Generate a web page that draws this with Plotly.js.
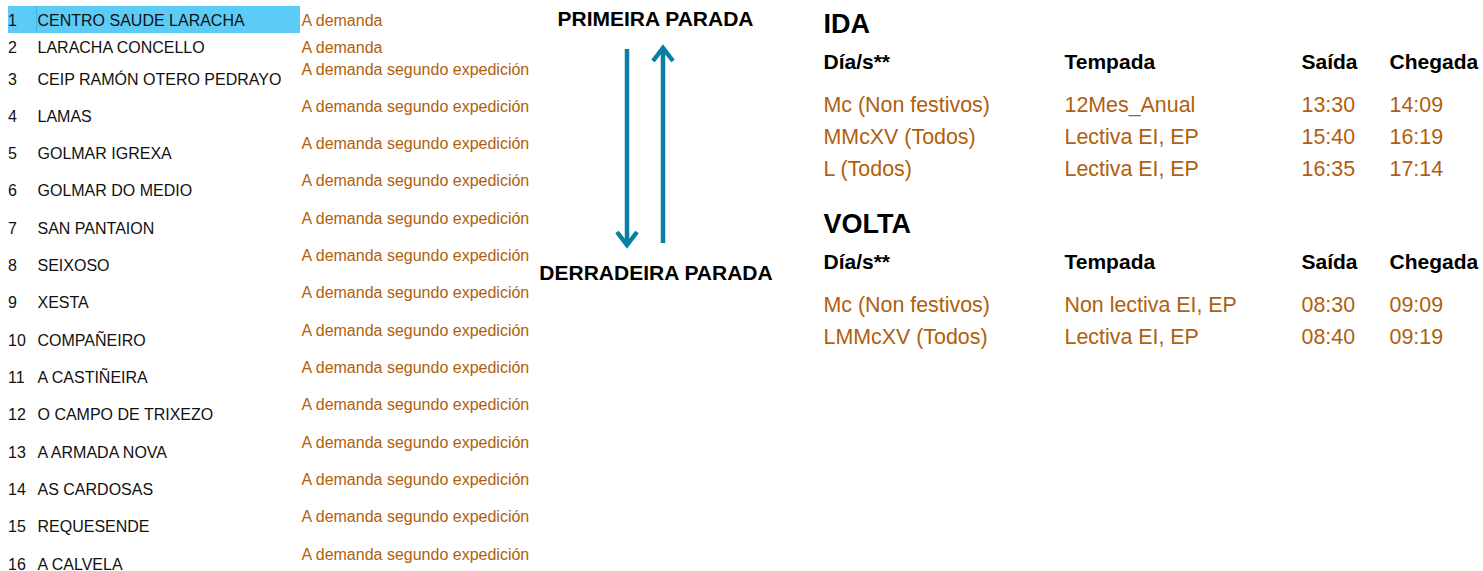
<!DOCTYPE html>
<html>
<head>
<meta charset="utf-8">
<script src="https://cdn.plot.ly/plotly-3.0.1.min.js"></script>
<style>html,body{margin:0;padding:0;background:#fff;}#chart{width:1483px;height:571px;}</style>
</head>
<body>
<div id="chart"></div>
<script>
// ---- data ----
const stopNumbers = ['1','2','3','4','5','6','7','8','9','10','11','12','13','14','15','16'];
const stopNames = ['CENTRO SAUDE LARACHA','LARACHA CONCELLO','CEIP RAMÓN OTERO PEDRAYO','LAMAS','GOLMAR IGREXA','GOLMAR DO MEDIO','SAN PANTAION','SEIXOSO','XESTA','COMPAÑEIRO','A CASTIÑEIRA','O CAMPO DE TRIXEZO','A ARMADA NOVA','AS CARDOSAS','REQUESENDE','A CALVELA'];
const stopNotes = ['A demanda','A demanda','A demanda segundo expedición','A demanda segundo expedición','A demanda segundo expedición','A demanda segundo expedición','A demanda segundo expedición','A demanda segundo expedición','A demanda segundo expedición','A demanda segundo expedición','A demanda segundo expedición','A demanda segundo expedición','A demanda segundo expedición','A demanda segundo expedición','A demanda segundo expedición','A demanda segundo expedición'];
const firstStopLabel = 'PRIMEIRA PARADA';
const lastStopLabel = 'DERRADEIRA PARADA';
const tableHeaders = ['Día/s**','Tempada','Saída','Chegada'];
const idaTitle = 'IDA';
const idaDays = ['Mc (Non festivos)','MMcXV (Todos)','L (Todos)'];
const idaSeason = ['12Mes_Anual','Lectiva EI, EP','Lectiva EI, EP'];
const idaDeparture = ['13:30','15:40','16:35'];
const idaArrival = ['14:09','16:19','17:14'];
const voltaTitle = 'VOLTA';
const voltaDays = ['Mc (Non festivos)','LMMcXV (Todos)'];
const voltaSeason = ['Non lectiva EI, EP','Lectiva EI, EP'];
const voltaDeparture = ['08:30','08:40'];
const voltaArrival = ['09:09','09:19'];

// ---- layout helpers ----
const FONT = 'Liberation Sans, Arial, sans-serif';
const ORANGE = '#b0600c';
const BLUE = '#0a7ea4';
const nameY = i => (i === 0 ? 21.5 : i === 1 ? 48.5 : 80.5 + (i - 2) * 37.33);
const noteY = i => (i === 0 ? 21.5 : i === 1 ? 48.5 : 70.5 + (i - 2) * 37.33);

function textTrace(xs, ys, texts, size, color, bold, pos) {
  return {
    type: 'scatter', mode: 'text', x: xs, y: ys,
    text: bold ? texts.map(t => '<b>' + t + '</b>') : texts,
    textposition: pos || 'middle right',
    textfont: {family: FONT, size: size, color: color},
    hoverinfo: 'skip', showlegend: false, cliponaxis: false
  };
}

const traces = [];
traces.push(textTrace(stopNumbers.map(() => 8), stopNumbers.map((_, i) => nameY(i)), stopNumbers, 16, '#111', false));
traces.push(textTrace(stopNames.map(() => 37.5), stopNames.map((_, i) => nameY(i)), stopNames, 16, '#111', false));
traces.push(textTrace(stopNotes.map(() => 301.5), stopNotes.map((_, i) => noteY(i)), stopNotes, 16, ORANGE, false));
traces.push(textTrace([655.5], [20.5], [firstStopLabel], 21, '#000', true, 'middle center'));
traces.push(textTrace([656], [274.5], [lastStopLabel], 21, '#000', true, 'middle center'));

const colX = [823.5, 1064.5, 1301.5, 1389.5];
function table(title, titleY, headY, rowY0, days, season, dep, arr) {
  traces.push(textTrace([823.5], [titleY], [title], 27, '#000', true));
  traces.push(textTrace(colX, tableHeaders.map(() => headY), tableHeaders, 21, '#000', true));
  const cols = [days, season, dep, arr];
  cols.forEach((c, k) => {
    traces.push(textTrace(c.map(() => colX[k]), c.map((_, i) => rowY0 + i * 32.3), c, 21.4, ORANGE, false));
  });
}
table(idaTitle, 26.5, 64, 106.5, idaDays, idaSeason, idaDeparture, idaArrival);
table(voltaTitle, 226, 264, 306.5, voltaDays, voltaSeason, voltaDeparture, voltaArrival);

const shapes = [
  {type: 'rect', x0: 8, x1: 300, y0: 6, y1: 33, fillcolor: '#5ccbf6', line: {width: 0}, layer: 'below'},
  {type: 'line', x0: 36.5, x1: 36.5, y0: 6, y1: 33, line: {color: '#3cb6e6', width: 1}, layer: 'below'},
  // down arrow
  {type: 'line', x0: 627, x1: 627, y0: 49, y1: 244, line: {color: BLUE, width: 4.5}},
  {type: 'path', path: 'M 617 232 L 627 245 L 637 232', line: {color: BLUE, width: 4.5}},
  // up arrow
  {type: 'line', x0: 663, x1: 663, y0: 243, y1: 49, line: {color: BLUE, width: 4.5}},
  {type: 'path', path: 'M 653 61 L 663 48 L 673 61', line: {color: BLUE, width: 4.5}}
];

const layout = {
  width: 1483, height: 571,
  margin: {l: 0, r: 0, t: 0, b: 0, pad: 0},
  paper_bgcolor: '#fff', plot_bgcolor: '#fff',
  xaxis: {range: [0, 1483], visible: false, fixedrange: true},
  yaxis: {range: [571, 0], visible: false, fixedrange: true},
  showlegend: false,
  shapes: shapes
};
Plotly.newPlot('chart', traces, layout, {staticPlot: true, displayModeBar: false});
</script>
</body>
</html>
